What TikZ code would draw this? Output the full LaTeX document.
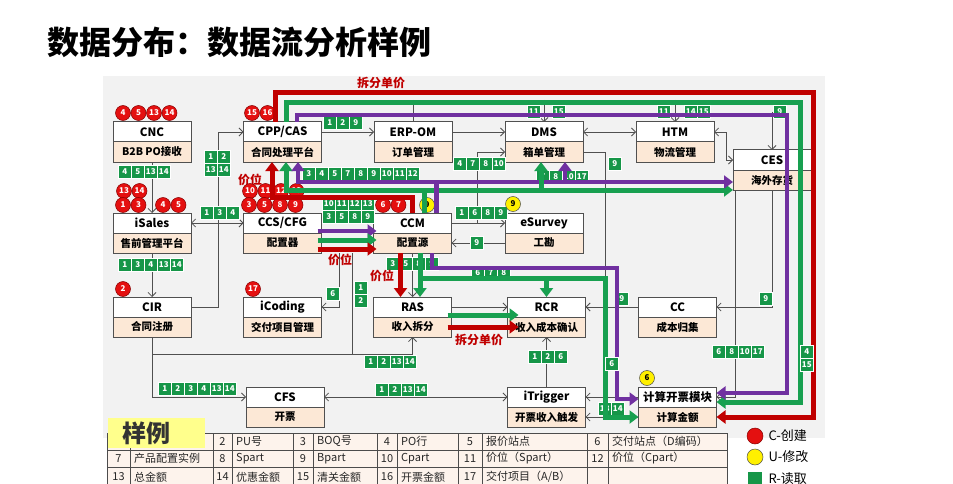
\documentclass[tikz,border=0pt]{standalone}
\usepackage{fontspec}
\setmainfont{Noto Sans CJK SC}
\usetikzlibrary{positioning, arrows.meta, calc}

\definecolor{flowred}{RGB}{192,0,0}
\definecolor{flowgreen}{RGB}{24,160,80}
\definecolor{flowpurple}{RGB}{112,48,160}
\definecolor{readgreen}{RGB}{22,150,72}
\definecolor{markred}{RGB}{228,16,16}
\definecolor{markyellow}{RGB}{255,240,0}
\definecolor{subpeach}{RGB}{252,232,214}
\definecolor{tablepeach}{RGB}{253,243,236}
\definecolor{panelgray}{RGB}{242,242,242}
\definecolor{linkgray}{RGB}{80,80,80}
\definecolor{legendyellow}{RGB}{255,255,140}

\tikzset{
  systop/.style={rectangle, draw=linkgray, line width=1pt, fill=white, minimum width=78pt,
    minimum height=20pt, inner sep=0pt, outer sep=0pt, font=\fontsize{11.5}{12}\selectfont\bfseries},
  syssub/.style={systop, fill=subpeach, font=\fontsize{10.5}{12}\selectfont\bfseries},
  readcell/.style={rectangle, fill=readgreen, draw=white, line width=0.6pt, text=white,
    minimum width=13pt, minimum height=13pt, inner sep=0pt, font=\fontsize{8}{8}\selectfont\bfseries},
  cmark/.style={circle, fill=markred, draw=flowred!70!black, line width=0.5pt, minimum size=15pt,
    inner sep=0pt, text=white, font=\fontsize{8}{8}\selectfont\bfseries},
  umark/.style={cmark, fill=markyellow, draw=black!70, text=black},
  link/.style={draw=linkgray, line width=0.8pt, -{Straight Barb[length=4pt,width=8pt]}},
  dlink/.style={link, {Straight Barb[length=4pt,width=8pt]}-{Straight Barb[length=4pt,width=8pt]}},
  rflow/.style={draw=flowred, line width=5pt, -{Triangle[length=9pt,width=13pt]}},
  gflow/.style={rflow, draw=flowgreen},
  pflow/.style={rflow, draw=flowpurple, line width=4.5pt},
  pricetag/.style={text=flowred, font=\fontsize{12}{12}\selectfont\bfseries},
  legendnum/.style={font=\fontsize{11}{12}\selectfont, text=black!85},
  legendtext/.style={legendnum, inner sep=0pt}
}

% system box: name, centre of title row, title, subtitle
\newcommand{\sysbox}[4]{%
  \node[systop] (#1) at (#2) {#3};
  \node[syssub, below=0pt of #1] (#1-s) {#4};
}
% read cells: name, left end, numbers
\newcommand{\readlist}[3]{%
  \foreach \n [count=\i] in {#3}
    \node[readcell, anchor=west] (#1-\i) at ($(#2)+(\i*13-13,0)$) {\n};
}
% create/update marks: name, style, first centre, numbers
\newcommand{\marklist}[4]{%
  \foreach \n [count=\i] in {#4}
    \node[#2] (#1-\i) at ($(#3)+(\i*15.5-15.5,0)$) {\n};
}
% legend entry: name, number x, text x, row y, number, text
\newcommand{\legendpair}[6]{%
  \node[legendnum] (#1-n) at (#2,#4) {#5};
  \node[legendtext, anchor=west] (#1-t) at (#3,#4) {#6};
}

\begin{document}
\begin{tikzpicture}[x=1pt, y=-1pt]
  \useasboundingbox (0,0) rectangle (953,484);
  \node[anchor=west, font=\fontsize{32}{34}\selectfont\bfseries] (title) at (44,42) {数据分布：数据流分析样例};
  \fill[panelgray] (103,76) rectangle (825,438);

  % systems
  \sysbox{cnc}{152,132}{CNC}{B2B PO接收}
  \sysbox{cpp}{282.5,132}{CPP/CAS}{合同处理平台}
  \sysbox{erp}{413,132}{ERP-OM}{订单管理}
  \sysbox{dms}{544,132}{DMS}{箱单管理}
  \sysbox{htm}{675,132}{HTM}{物流管理}
  \sysbox{ces}{772,160}{CES}{海外存货}
  \sysbox{isales}{152,223}{iSales}{售前管理平台}
  \sysbox{ccs}{282.5,223}{CCS/CFG}{配置器}
  \sysbox{ccm}{412.5,223}{CCM}{配置源}
  \sysbox{esv}{544,223}{eSurvey}{工勘}
  \sysbox{cir}{152,307}{CIR}{合同注册}
  \sysbox{icod}{282.5,307}{iCoding}{交付项目管理}
  \sysbox{ras}{412.5,307}{RAS}{收入拆分}
  \sysbox{rcr}{546.5,307}{RCR}{收入成本确认}
  \sysbox{cc}{677.5,307}{CC}{成本归集}
  \sysbox{cfs}{285,397}{CFS}{开票}
  \sysbox{itrig}{546.5,397}{iTrigger}{开票收入触发}
  \sysbox{calc}{677.5,397}{计算开票模块}{计算金额}

  % thin links
  \draw[link] (cnc-s.south) -- (isales.north);
  \draw[link] (isales-s.south) -- (cir.north);
  \draw[dlink] (isales.east) -- (ccs.west);
  \draw[link] (cir.east) -- ++(27,0) |- (cpp.west);
  \draw[link] (cpp.east) -- (erp.west);
  \draw[link] (erp.east) -- (dms.west);
  \draw[dlink] (dms.east) -- (htm.west);
  \draw[dlink] (htm.east) -- ++(12,0) |- (ces.west);
  \draw[draw=linkgray, line width=0.8pt] ([yshift=22pt]erp.north) -- (erp.north);
  \draw[link] ([yshift=22pt]dms.north) -- (dms.north);
  \draw[link] ([yshift=22pt]htm.north) -- (htm.north);
  \draw[link] ([yshift=38pt]ces.north) -- (ces.north);
  \draw[link] ([xshift=26pt]ccm.east) |- (dms-s.west);
  \draw[link] (ccm.east) -- (esv.west);
  \draw[link] (esv-s.west) -- (ccm-s.east);
  \draw[link] (ccm-s.south) -- (ras.north);
  \draw[link] (ras.east) -- (rcr.west);
  \draw[link] (dms-s.east) -| ([xshift=20pt]rcr.east) -- (rcr.east);
  \draw[link] (cc.west) -- (rcr.east);
  \draw[link] (ces-s.south) |- (cc.east);
  \draw[link] ([xshift=-37pt]ces-s.south) |- (calc.east);
  \draw[link] (itrig.north) -- (rcr-s.south);
  \draw[dlink] (cfs.east) -- (itrig.west);
  \draw[link] (calc.west) -- (itrig.east);
  \draw[link] (calc-s.west) -- (itrig-s.east);
  \draw[link] (cir-s.south) |- (cfs.west);
  \draw[link] (cir-s.south) |- ([yshift=-17pt]ras-s.south) -- (ras-s.south);
  \draw[draw=linkgray, line width=0.8pt] ([xshift=31pt]ccs-s.south east) -- ++(0,101);
  \draw[link] ([xshift=18pt]ccs-s.south east) |- (icod.east);

  % read cells
  \readlist{cncr}{118,172}{4,5,13,14}
  \readlist{cirl}{204,157}{1,2}
  \readlist{cirm}{204,170}{13,14}
  \readlist{cppr}{323,123}{1,2,9}
  \readlist{cppd}{302,174}{3,4,5,7,8,9,10,11,12}
  \readlist{isl}{200,213}{1,3,4}
  \readlist{ccsr}{322,204}{10,11,12,13}
  \readlist{ccst}{322,217}{3,5,8,9}
  \readlist{isld}{118,265}{1,3,4,13,14}
  \readlist{icodr}{326,294}{6}
  \readlist{rasa}{354,288}{1}
  \readlist{rasb}{354,301}{2}
  \readlist{erpr}{453,164}{4,7,8,10}
  \readlist{dmsa}{527,112}{11}
  \readlist{dmsb}{552,112}{15}
  \readlist{htma}{657,112}{11}
  \readlist{htmb}{684,112}{14,15}
  \readlist{cest}{773,112}{9}
  \readlist{dmsr}{608,164}{9}
  \readlist{dmsd}{536,177}{7,8,10,17}
  \readlist{ccmr}{455,213}{1,6,8,9}
  \readlist{esvl}{470,243}{9}
  \readlist{ccmd}{386,264}{3,5,8,9}
  \readlist{rcrt}{471,273}{6,7,8}
  \readlist{ccl}{615,299}{9}
  \readlist{cesl}{759,299}{9}
  \readlist{calcr}{712,352}{6,8,10,17}
  \readlist{rasd}{364,362}{1,2,13,14}
  \readlist{cfsl}{158,389}{1,2,3,4,13,14}
  \readlist{cfsr}{375,390}{1,2,13,14}
  \readlist{trigt}{528,357}{1,2,6}
  \readlist{trigr}{598,409}{13,14}

  % create / update marks
  \node[pricetag] (tagcpp) at (250,180) {价位};
  \marklist{cncc}{cmark}{123,113}{4,5,13,14}
  \marklist{cppc}{cmark}{252,113}{15,16}
  \marklist{islc}{cmark}{124,191}{13,14}
  \marklist{isla}{cmark}{123,205}{1,3}
  \marklist{islb}{cmark}{163,205}{4,5}
  \marklist{ccsc}{cmark}{250,191}{10,11,12,13}
  \marklist{ccsa}{cmark}{249,205}{3,5,8,9}
  \marklist{ccmc}{cmark}{383,205}{6,7}
  \marklist{circ}{cmark}{123,289}{2}
  \marklist{icodc}{cmark}{253,289}{17}
  \marklist{ccmu}{umark}{427,205}{9}
  \marklist{esvu}{umark}{513,204}{9}
  \marklist{calcu}{umark}{647,378}{6}

  % data flows
  \draw[rflow] ([xshift=-7.5pt]cpp.north) |- (813,93) |- (calc-s.east);
  \draw[gflow] ([xshift=4pt]cpp.north) |- (800,103) |- ([yshift=-5pt]calc.east);
  \draw[pflow] ([xshift=14.5pt]cpp.north) |- (787,115) |- ([yshift=4pt]calc.east);

  \draw[rflow] (ccm.north) |- (272,197) -- ([xshift=-10.5pt]cpp-s.south);
  \draw[gflow] ([xshift=12pt]ccm.north) |- (286,190) -- ([xshift=3.5pt]cpp-s.south);
  \draw[gflow] ([xshift=12pt]ccm.north) |- (ces-s.south west);
  \draw[pflow] ([xshift=24pt]ccm.north) |- (298,182) -- ([xshift=15.5pt]cpp-s.south);
  \draw[pflow] ([xshift=24pt]ccm.north) |- ([yshift=-2pt]ces-s.west);
  \coordinate (gdms) at (541,190);
  \coordinate (pdms) at (565,182);
  \draw[gflow] (gdms) -- ([xshift=-3pt]dms-s.south);
  \draw[pflow] (pdms) -- ([xshift=21pt]dms-s.south);

  \draw[pflow] ([xshift=-4pt,yshift=-8pt]ccs.east) -- ([xshift=3pt,yshift=-8pt]ccm.west);
  \draw[gflow] ([xshift=-4pt,yshift=3pt]ccs-s.east) -- ([xshift=3pt,yshift=3pt]ccm-s.west);
  \draw[rflow] ([xshift=-4pt,yshift=-6pt]ccs-s.east) -- ([xshift=3pt,yshift=-6pt]ccm-s.west);
  \node[pricetag] (tagccs) at (340,260) {价位};

  \draw[rflow] ([xshift=-12pt]ccm-s.south) -- ([xshift=-12pt]ras.north);
  \draw[gflow] ([xshift=7.5pt]ccm-s.south) -- ([xshift=7.5pt]ras.north);
  \draw[gflow] ([xshift=7.5pt]ccm-s.south) |- (605,278) |- (calc-s.west);
  \coordinate (grcr) at (546.5,278);
  \draw[gflow] (grcr) -- (rcr.north);
  \draw[pflow] ([xshift=19.5pt]ccm-s.south) |- (617,268) |- ([yshift=-2pt]calc.west);
  \node[pricetag] (tagccm) at (382,276) {价位};

  \draw[gflow] ([xshift=-4pt,yshift=-8pt]ras.east) -- ([xshift=11pt,yshift=-8pt]rcr.west);
  \draw[rflow] ([xshift=-4pt]ras-s.east) -- ([xshift=11pt]rcr-s.west);
  \node[pricetag] (tagras) at (479,340) {拆分单价};
  \node[pricetag] (tagtop) at (381,83) {拆分单价};

  \readlist{gsix}{605,364}{6}
  \readlist{loopa}{800,352}{4}
  \readlist{loopb}{800,365}{15}

  % legend table
  \fill[tablepeach] (107,433) rectangle (727,484);
  \foreach \x in {107,130,213,232,293,313,377,397,458,482,587,608,727}
    \draw[black!70, line width=0.6pt] (\x,433) -- (\x,484);
  \foreach \y in {433,450,467}
    \draw[black!70, line width=0.6pt] (107,\y) -- (727,\y);
  \legendpair{pu}{222.5}{236}{441.5}{2}{PU号}
  \legendpair{boq}{303}{317}{441.5}{3}{BOQ号}
  \legendpair{po}{387}{401}{441.5}{4}{PO行}
  \legendpair{quote}{470}{486}{441.5}{5}{报价站点}
  \legendpair{site}{597.5}{612}{441.5}{6}{交付站点（D编码）}
  \legendpair{inst}{118.5}{134}{458.5}{7}{产品配置实例}
  \legendpair{spart}{222.5}{236}{458.5}{8}{Spart}
  \legendpair{bpart}{303}{317}{458.5}{9}{Bpart}
  \legendpair{cpart}{387}{401}{458.5}{10}{Cpart}
  \legendpair{pspart}{470}{486}{458.5}{11}{价位（Spart）}
  \legendpair{pcpart}{597.5}{612}{458.5}{12}{价位（Cpart）}
  \legendpair{total}{118.5}{134}{477}{13}{总金额}
  \legendpair{disc}{222.5}{236}{477}{14}{优惠金额}
  \legendpair{clear}{303}{317}{477}{15}{清关金额}
  \legendpair{bill}{387}{401}{477}{16}{开票金额}
  \legendpair{item}{470}{486}{477}{17}{交付项目（A/B）}
  \node[fill=legendyellow, minimum width=97pt, minimum height=30pt, inner sep=0pt, anchor=north west] (sample) at (108,418) {};
  \node[font=\fontsize{24}{26}\selectfont\bfseries, text=black!80] (sample-t) at (146,433) {样例};

  % key
  \node[cmark, minimum size=16pt] (keyc) at (755,436) {};
  \node[anchor=west, font=\fontsize{13}{14}\selectfont] (keyc-t) at (765,436) {C-创建};
  \node[umark, minimum size=16pt] (keyu) at (755,457) {};
  \node[anchor=west, font=\fontsize{13}{14}\selectfont] (keyu-t) at (765,457) {U-修改};
  \node[fill=readgreen, minimum size=14pt, inner sep=0pt] (keyr) at (755,479) {};
  \node[anchor=west, font=\fontsize{13}{14}\selectfont] (keyr-t) at (765,479) {R-读取};
\end{tikzpicture}
\end{document}
